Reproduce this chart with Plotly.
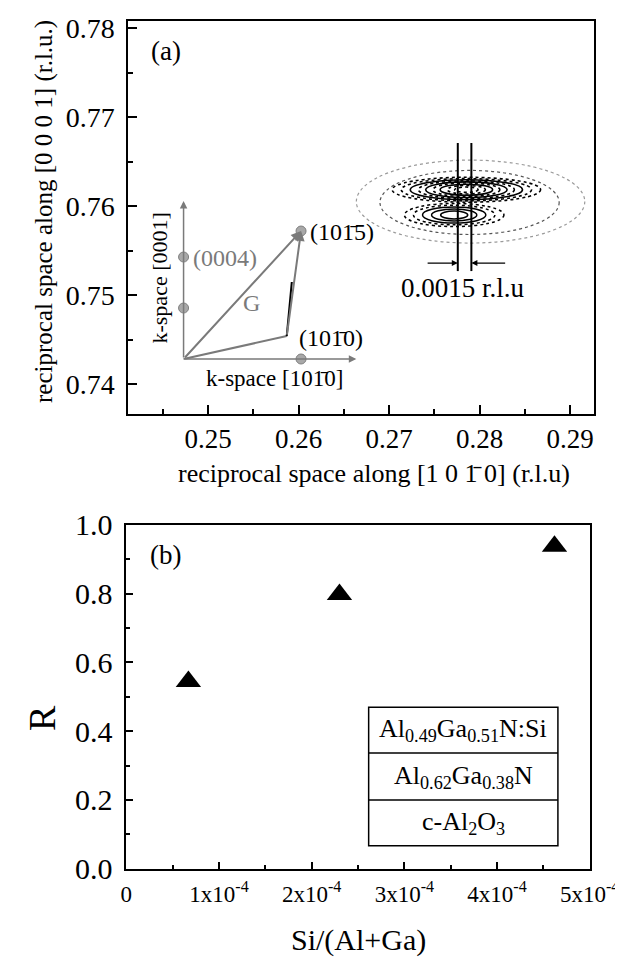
import plotly.graph_objects as go

FONT = "Liberation Serif"

# ---------------- Panel (a) data ----------------
a_xticks = [0.25, 0.26, 0.27, 0.28, 0.29]
a_xticktext = ["0.25", "0.26", "0.27", "0.28", "0.29"]
a_yticks = [0.74, 0.75, 0.76, 0.77, 0.78]
a_yticktext = ["0.74", "0.75", "0.76", "0.77", "0.78"]

# schematic inset (reciprocal-space coordinates)
origin = [0.24730, 0.74281]
kz_end = [0.24730, 0.76056]
kx_end = [0.26639, 0.74281]
gray_pts_x = [0.24730, 0.24730, 0.26028, 0.26028]
gray_pts_y = [0.75427, 0.74854, 0.74281, 0.75719]
pt_1015 = [0.26028, 0.75719]
path_vertex = [0.25870, 0.74539]
black_seg_end = [0.25926, 0.75146]

# measured contour lines of the reciprocal space map (center, half-width, half-height)
env_cx = [0.27901, 0.27890]
env_cy = [0.76050, 0.76040]
env_hw = [0.01262, 0.00990]
env_hh = [0.00466, 0.00360]

main_cx, main_cy = 0.27855, 0.76183
main_hw = [0.0082, 0.0072, 0.0062, 0.0053, 0.0045, 0.0037, 0.0029, 0.0021, 0.0013]
main_hh = [0.00140, 0.00125, 0.00112, 0.00100, 0.00088, 0.00076, 0.00062, 0.00048, 0.00030]
main_dash = ["dot", "dot", "solid", "dot", "solid", "dot", "solid", "dot", "dot"]

sec_cx, sec_cy = 0.27720, 0.75899
sec_hw = [0.0055, 0.0045, 0.0035, 0.0025, 0.0015]
sec_hh = [0.00130, 0.00110, 0.00090, 0.00068, 0.00045]
sec_dash = ["dot", "dot", "solid", "solid", "solid"]

fwhm_lines_x = [0.27760, 0.27910]
fwhm_y = [0.75269, 0.76708]
fwhm_arrow_y = 0.75359

# ---------------- Panel (b) data ----------------
si_ratio = [0.67e-4, 2.30e-4, 4.62e-4]
R_values = [0.544, 0.797, 0.937]
b_xticks = [0, 1e-4, 2e-4, 3e-4, 4e-4, 5e-4]
b_xticktext = ["0", "1x10<sup>-4</sup>", "2x10<sup>-4</sup>", "3x10<sup>-4</sup>",
               "4x10<sup>-4</sup>", "5x10<sup>-4</sup>"]
b_yticks = [0.0, 0.2, 0.4, 0.6, 0.8, 1.0]
b_yticktext = ["0.0", "0.2", "0.4", "0.6", "0.8", "1.0"]
layers = ["Al<sub>0.49</sub>Ga<sub>0.51</sub>N:Si", "Al<sub>0.62</sub>Ga<sub>0.38</sub>N",
          "c-Al<sub>2</sub>O<sub>3</sub>"]

fig = go.Figure()

GRAY = "#7a7a7a"
BAR = "1\u0304"

fig.add_trace(go.Scatter(x=gray_pts_x, y=gray_pts_y, mode="markers",
                         marker=dict(size=10, color="#a8a8a8", line=dict(color="#808080", width=1)),
                         xaxis="x", yaxis="y", showlegend=False, hoverinfo="skip"))
fig.add_trace(go.Scatter(x=[origin[0], path_vertex[0]], y=[origin[1], path_vertex[1]], mode="lines",
                         line=dict(color=GRAY, width=2), xaxis="x", yaxis="y", showlegend=False,
                         hoverinfo="skip"))
fig.add_trace(go.Scatter(x=[path_vertex[0], black_seg_end[0]], y=[path_vertex[1], black_seg_end[1]],
                         mode="lines", line=dict(color="black", width=2), xaxis="x", yaxis="y",
                         showlegend=False, hoverinfo="skip"))

fig.add_trace(go.Scatter(x=si_ratio, y=R_values, mode="markers",
                         marker=dict(symbol="triangle-up", size=22, color="black"),
                         xaxis="x2", yaxis="y2", showlegend=False))

shapes = []
for cx, cy, hw, hh, col in zip(env_cx, env_cy, env_hw, env_hh, ["#9a9a9a", "#555555"]):
    shapes.append(dict(type="circle", xref="x", yref="y", x0=cx - hw, x1=cx + hw, y0=cy - hh, y1=cy + hh,
                       line=dict(color=col, width=1.2, dash="dot")))
for hw, hh, d in zip(sec_hw, sec_hh, sec_dash):
    shapes.append(dict(type="circle", xref="x", yref="y", x0=sec_cx - hw, x1=sec_cx + hw,
                       y0=sec_cy - hh, y1=sec_cy + hh, line=dict(color="black", width=1.5, dash=d)))
for hw, hh, d in zip(main_hw, main_hh, main_dash):
    shapes.append(dict(type="circle", xref="x", yref="y", x0=main_cx - hw, x1=main_cx + hw,
                       y0=main_cy - hh, y1=main_cy + hh, line=dict(color="black", width=1.6, dash=d)))
for lx in fwhm_lines_x:
    shapes.append(dict(type="line", xref="x", yref="y", x0=lx, x1=lx, y0=fwhm_y[0], y1=fwhm_y[1],
                       line=dict(color="black", width=2)))

box_x = [2.615e-4, 4.657e-4]
box_y = [0.0667, 0.2, 0.336, 0.4696]
shapes.append(dict(type="rect", xref="x2", yref="y2", x0=box_x[0], x1=box_x[1], y0=box_y[0], y1=box_y[3],
                   line=dict(color="black", width=1.5), fillcolor="white", layer="below"))
for yy in box_y[1:3]:
    shapes.append(dict(type="line", xref="x2", yref="y2", x0=box_x[0], x1=box_x[1], y0=yy, y1=yy,
                       line=dict(color="black", width=1.5)))

ann = []
def arrow(head, tail, color, ref=("x", "y"), width=2, size=1.0):
    ann.append(dict(x=head[0], y=head[1], ax=tail[0], ay=tail[1], xref=ref[0], yref=ref[1],
                    axref=ref[0], ayref=ref[1], showarrow=True, arrowhead=2, arrowsize=size,
                    arrowwidth=width, arrowcolor=color, text=""))

arrow(kz_end, origin, GRAY, width=1.5)
arrow(kx_end, origin, GRAY, width=1.5)
arrow(pt_1015, origin, GRAY, width=2)
arrow(pt_1015, path_vertex, GRAY, width=2)
arrow([fwhm_lines_x[0], fwhm_arrow_y], [fwhm_lines_x[0] - 0.0035, fwhm_arrow_y], "black", width=1.2)
arrow([fwhm_lines_x[1], fwhm_arrow_y], [fwhm_lines_x[1] + 0.0039, fwhm_arrow_y], "black", width=1.2)

def text(t, x, y, size, color="black", xref="x", yref="y", xanchor="center", angle=0):
    ann.append(dict(text=t, x=x, y=y, xref=xref, yref=yref, showarrow=False, xanchor=xanchor,
                    yanchor="middle", textangle=angle, font=dict(family=FONT, size=size, color=color)))

text("(10" + BAR + "5)", 0.26103, 0.75708, 24, xanchor="left")
text("(0004)", 0.24814, 0.75416, 24, color=GRAY, xanchor="left")
text("G", 0.25481, 0.74910, 24, color=GRAY)
text("(10" + BAR + "0)", 0.25978, 0.74517, 24, xanchor="left")
text("k-space [10" + BAR + "0]", 0.25732, 0.74067, 23)
text("k-space [0001]", 0.24464, 0.75191, 22, angle=-90)
text("0.0015 r.l.u", 0.27819, 0.75078, 27)
text("(a)", 158 / 623, 1 - 43 / 960, 27, xref="paper", yref="paper")
text("reciprocal space along [1 0 " + BAR + " 0] (r.l.u)", 366 / 623, 1 - 465 / 960, 26,
     xref="paper", yref="paper")
text("reciprocal space along [0 0 0 1] (r.l.u.)", 36 / 623, 1 - 204 / 960, 25,
     xref="paper", yref="paper", angle=-90)

text("(b)", 157 / 623, 1 - 547 / 960, 27, xref="paper", yref="paper")
text("R", 34 / 623, 1 - 710 / 960, 38, xref="paper", yref="paper", angle=-90)
text("Si/(Al+Ga)", 350 / 623, 1 - 932 / 960, 30, xref="paper", yref="paper")
for lab, yy in zip(layers, [(box_y[2] + box_y[3]) / 2, (box_y[1] + box_y[2]) / 2, (box_y[0] + box_y[1]) / 2]):
    text(lab, (box_x[0] + box_x[1]) / 2, yy, 26, xref="x2", yref="y2")

axis_common = dict(showgrid=False, zeroline=False, showline=True, linecolor="black", linewidth=1.5,
                   mirror=True, ticks="inside", tickcolor="black", tickwidth=1.5, automargin=False,
                   ticklabeloverflow="allow")

fig.update_layout(
    width=623, height=960, margin=dict(l=0, r=0, t=0, b=0, autoexpand=False),
    paper_bgcolor="white", plot_bgcolor="white", showlegend=False,
    xaxis=dict(domain=[120 / 623, 586 / 623], anchor="y", range=[0.24116, 0.29265],
               tickvals=a_xticks, ticktext=a_xticktext, ticklen=9, ticklabelstandoff=0,
               tickfont=dict(family=FONT, size=27, color="black"),
               minor=dict(ticks="inside", ticklen=5, dtick=0.005, tick0=0.245, tickcolor="black"),
               **axis_common),
    yaxis=dict(domain=[1 - 406 / 960, 1 - 13 / 960], anchor="x", range=[0.73663, 0.78079],
               tickvals=a_yticks, ticktext=a_yticktext, ticklen=9, ticklabelstandoff=6,
               tickfont=dict(family=FONT, size=28, color="black"),
               minor=dict(ticks="inside", ticklen=5, dtick=0.005, tick0=0.735, tickcolor="black"),
               **axis_common),
    xaxis2=dict(domain=[118.3 / 623, 581.7 / 623], anchor="y2", range=[0, 5e-4],
                tickvals=b_xticks, ticktext=b_xticktext, ticklen=7, ticklabelstandoff=4,
                tickfont=dict(family=FONT, size=23, color="black"),
                minor=dict(ticks="inside", ticklen=4, dtick=0.5e-4, tick0=0, tickcolor="black"),
                **axis_common),
    yaxis2=dict(domain=[1 - 860.7 / 960, 1 - 516.7 / 960], anchor="x2", range=[0, 1.0],
                tickvals=b_yticks, ticktext=b_yticktext, ticklen=7, ticklabelstandoff=6,
                tickfont=dict(family=FONT, size=30, color="black"),
                minor=dict(ticks="inside", ticklen=4, dtick=0.1, tick0=0, tickcolor="black"),
                **axis_common),
    shapes=shapes, annotations=ann,
)

fig.write_html("out.html")
